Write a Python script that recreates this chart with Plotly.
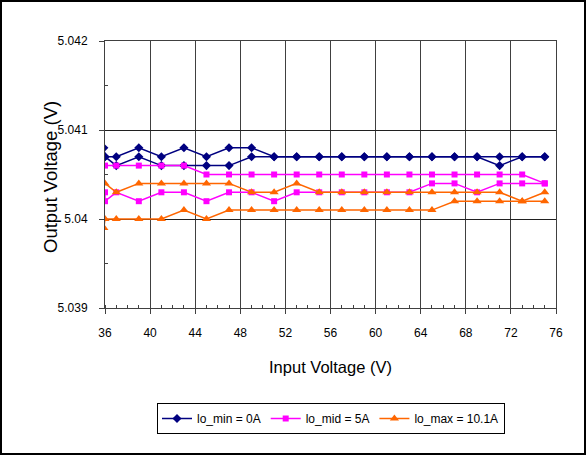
import plotly.graph_objects as go

vin = [36, 37, 39, 41, 43, 45, 47, 49, 51, 53, 55, 57, 59, 61, 63, 65, 67, 69, 71, 73, 75]

# two sweeps per load condition (output voltage, V)
io_min_a = [5.0407, 5.0407, 5.0408, 5.0407, 5.0408, 5.0407, 5.0408, 5.0408, 5.0407, 5.0407, 5.0407,
            5.0407, 5.0407, 5.0407, 5.0407, 5.0407, 5.0407, 5.0407, 5.0407, 5.0407, 5.0407]
io_min_b = [5.0407, 5.0406, 5.0407, 5.0406, 5.0406, 5.0406, 5.0406, 5.0407, 5.0407, 5.0407, 5.0407,
            5.0407, 5.0407, 5.0407, 5.0407, 5.0407, 5.0407, 5.0407, 5.0406, 5.0407, 5.0407]
io_mid_a = [5.0406, 5.0406, 5.0406, 5.0406, 5.0406, 5.0405, 5.0405, 5.0405, 5.0405, 5.0405, 5.0405,
            5.0405, 5.0405, 5.0405, 5.0405, 5.0405, 5.0405, 5.0405, 5.0405, 5.0405, 5.0404]
io_mid_b = [5.0402, 5.0403, 5.0402, 5.0403, 5.0403, 5.0402, 5.0403, 5.0403, 5.0402, 5.0403, 5.0403,
            5.0403, 5.0403, 5.0403, 5.0403, 5.0404, 5.0404, 5.0403, 5.0404, 5.0404, 5.0404]
io_max_a = [5.0404, 5.0403, 5.0404, 5.0404, 5.0404, 5.0404, 5.0404, 5.0403, 5.0403, 5.0404, 5.0403,
            5.0403, 5.0403, 5.0403, 5.0403, 5.0403, 5.0403, 5.0403, 5.0403, 5.0402, 5.0403]
io_max_b = [5.0400, 5.0400, 5.0400, 5.0400, 5.0401, 5.0400, 5.0401, 5.0401, 5.0401, 5.0401, 5.0401,
            5.0401, 5.0401, 5.0401, 5.0401, 5.0401, 5.0402, 5.0402, 5.0402, 5.0402, 5.0402]

# final repeat reading at the low-line end of the second sweep
end_vin = [35.9, 36, 35.9]
end_vout = [5.0408, 5.0403, 5.0399]

legend_names = ["lo_min = 0A", "lo_mid = 5A", "lo_max = 10.1A"]
colors = ["#000080", "#FF00FF", "#FF6600"]
symbols = ["diamond", "square", "triangle-up"]
msizes = [7, 6, 8]

y_ticks = [5.039, 5.04, 5.041, 5.042]
y_ticktext = ["5.039", "5.04", "5.041", "5.042"]
x_ticks = [36, 40, 44, 48, 52, 56, 60, 64, 68, 72, 76]

series = [(io_min_a, io_min_b), (io_mid_a, io_mid_b), (io_max_a, io_max_b)]

fig = go.Figure()
for i, (a, b) in enumerate(series):
    fig.add_trace(go.Scatter(
        x=vin, y=a, mode="lines+markers",
        name=legend_names[i], legendgroup=legend_names[i], showlegend=True,
        line=dict(color=colors[i], width=1.5),
        marker=dict(symbol=symbols[i], size=msizes[i], color=colors[i]),
    ))
    fig.add_trace(go.Scatter(
        x=[end_vin[i]] + vin, y=[end_vout[i]] + b, mode="lines+markers",
        name=legend_names[i], legendgroup=legend_names[i], showlegend=False,
        line=dict(color=colors[i], width=1.5),
        marker=dict(symbol=symbols[i], size=msizes[i], color=colors[i]),
    ))

W, H = 586, 455
L, R, T, B = 105, 30, 41, 147
pw, ph = W - L - R, H - T - B

def px(xp):
    return (xp - L) / pw

def py(yp):
    return (H - B - yp) / ph

fig.update_layout(
    width=W, height=H,
    margin=dict(l=L, r=R, t=T, b=B),
    paper_bgcolor="white", plot_bgcolor="white",
    font=dict(family="Liberation Sans, Arial, sans-serif", color="black", size=12),
    showlegend=True,
    legend=dict(orientation="h", x=px(331), y=py(403), xanchor="center", yanchor="top",
                bordercolor="black", borderwidth=1, font=dict(size=12),
                itemwidth=30, tracegroupgap=0),
    xaxis=dict(range=[36, 76], tickvals=x_ticks, showgrid=True, gridcolor="#404040", gridwidth=1,
               showline=True, linecolor="#404040", linewidth=1, mirror=True,
               ticks="outside", ticklen=5, tickcolor="#404040", zeroline=False,
               ticklabelstandoff=9,
               minor=dict(dtick=1, ticks="inside", ticklen=3, tickcolor="#404040", showgrid=False),
               title=dict(text="Input Voltage (V)", font=dict(size=16.5), standoff=22),
               tickfont=dict(size=12)),
    yaxis=dict(range=[5.039, 5.042], tickvals=y_ticks, ticktext=y_ticktext, showgrid=True,
               gridcolor="#202020", gridwidth=1,
               showline=True, linecolor="#404040", linewidth=1, mirror=True,
               ticks="outside", ticklen=5, tickcolor="#404040", zeroline=False,
               ticklabelstandoff=9,
               minor=dict(tickvals=[5.0395, 5.0405, 5.0415], ticks="inside", ticklen=3,
                          tickcolor="#404040", showgrid=False),
               tickfont=dict(size=12)),
    annotations=[dict(text="Output Voltage (V)", xref="paper", yref="paper",
                      x=px(50), y=py(177), xanchor="center", yanchor="middle",
                      textangle=-90, showarrow=False, font=dict(size=18.5))],
    shapes=[dict(type="rect", xref="paper", yref="paper",
                 x0=px(1), x1=px(585), y0=py(454), y1=py(1),
                 line=dict(color="black", width=2), fillcolor="rgba(0,0,0,0)")],
)

fig.write_html("out.html", config={"displayModeBar": False},
               post_script="document.body.style.margin='0';document.body.style.overflow='hidden';")
